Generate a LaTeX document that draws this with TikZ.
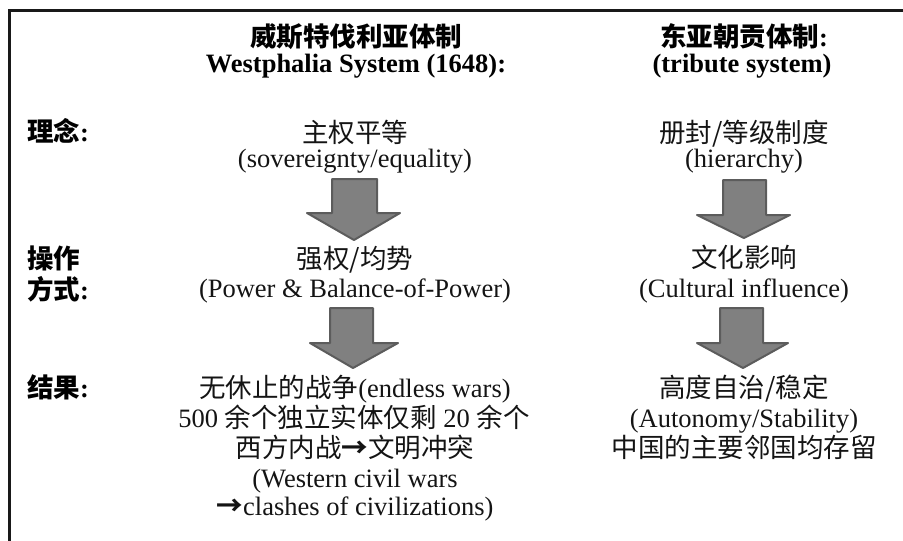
\documentclass[tikz,border=0pt]{standalone}
\usepackage{fontspec}
\setmainfont{Liberation Serif}
\newfontfamily\cjk{Noto Sans CJK SC}
\definecolor{arrowfill}{RGB}{128,128,128}
\definecolor{arrowline}{RGB}{92,92,92}
\definecolor{framecol}{RGB}{25,25,25}
\definecolor{txtcol}{RGB}{20,20,20}
\newcommand{\thickarr}{{\cjk\bfseries →}}
\tikzset{
  lbl/.style={anchor=base west, inner sep=0pt, text=black, font=\fontsize{26.5}{30}\selectfont\bfseries},
  hd/.style={anchor=base, inner sep=0pt, text=black, font=\fontsize{26.5}{30}\selectfont\bfseries},
  txt/.style={anchor=base, inner sep=0pt, text=txtcol, font=\fontsize{26.5}{30}\selectfont},
  bigarrow/.style={fill=arrowfill, draw=arrowline, line width=2pt, line join=round},
  frameline/.style={draw=framecol, line width=3.5pt}
}
\begin{document}
\begin{tikzpicture}[x=1pt,y=-1pt]
\useasboundingbox (0,0) rectangle (903,541);
% partial frame
\draw[frameline] (9.5,545) -- (9.5,10.3) -- (910,10.3);

% headers
\node[hd] (h1a) at (356,46) {{\cjk 威斯特伐利亚体制}};
\node[hd] (h1b) at (356,72) {Westphalia System (1648):};
\node[hd] (h2a) at (744,46) {{\cjk 东亚朝贡体制}:};
\node[hd] (h2b) at (742,72) {(tribute system)};

% row labels
\node[lbl] (r1) at (27,141) {{\cjk 理念}:};
\node[lbl] (r2a) at (27,268) {{\cjk 操作}};
\node[lbl] (r2b) at (27,299) {{\cjk 方式}:};
\node[lbl] (r3) at (27,397) {{\cjk 结果}:};

% left column
\node[txt] (l1a) at (355,142) {{\cjk 主权平等}};
\node[txt] (l1b) at (355,167) {(sovereignty/equality)};
\node[txt] (l2a) at (355,268) {{\cjk 强权/均势}};
\node[txt] (l2b) at (355,297) {(Power \& Balance-of-Power)};
\node[txt] (l3a) at (355,397) {{\cjk 无休止的战争}(endless wars)};
\node[txt] (l3b) at (354,427) {500 {\cjk 余个独立实体仅剩} 20 {\cjk 余个}};
\node[txt] (l3c) at (355,457) {{\cjk 西方内战}\thickarr{\cjk 文明冲突}};
\node[txt] (l3d) at (355,487) {(Western civil wars};
\node[txt] (l3e) at (355,515) {\thickarr clashes of civilizations)};

% right column
\node[txt] (m1a) at (744,142) {{\cjk 册封/等级制度}};
\node[txt] (m1b) at (744,167) {(hierarchy)};
\node[txt] (m2a) at (744,267) {{\cjk 文化影响}};
\node[txt] (m2b) at (744,297) {(Cultural influence)};
\node[txt] (m3a) at (744,397) {{\cjk 高度自治/稳定}};
\node[txt] (m3b) at (744,427) {(Autonomy/Stability)};
\node[txt] (m3c) at (744,457) {{\cjk 中国的主要邻国均存留}};

% block arrows
\draw[bigarrow] (332,179) -- (377,179) -- (377,213) -- (400,213) -- (354,240) -- (307,213) -- (332,213) -- cycle;
\draw[bigarrow] (330,308) -- (373,308) -- (373,343) -- (398,343) -- (353,368) -- (310,343) -- (330,343) -- cycle;
\draw[bigarrow] (723,180) -- (766,180) -- (766,215) -- (790,215) -- (744,238) -- (697,215) -- (723,215) -- cycle;
\draw[bigarrow] (720,308) -- (763,308) -- (763,343) -- (788,343) -- (743,368) -- (697,343) -- (720,343) -- cycle;
\end{tikzpicture}
\end{document}
